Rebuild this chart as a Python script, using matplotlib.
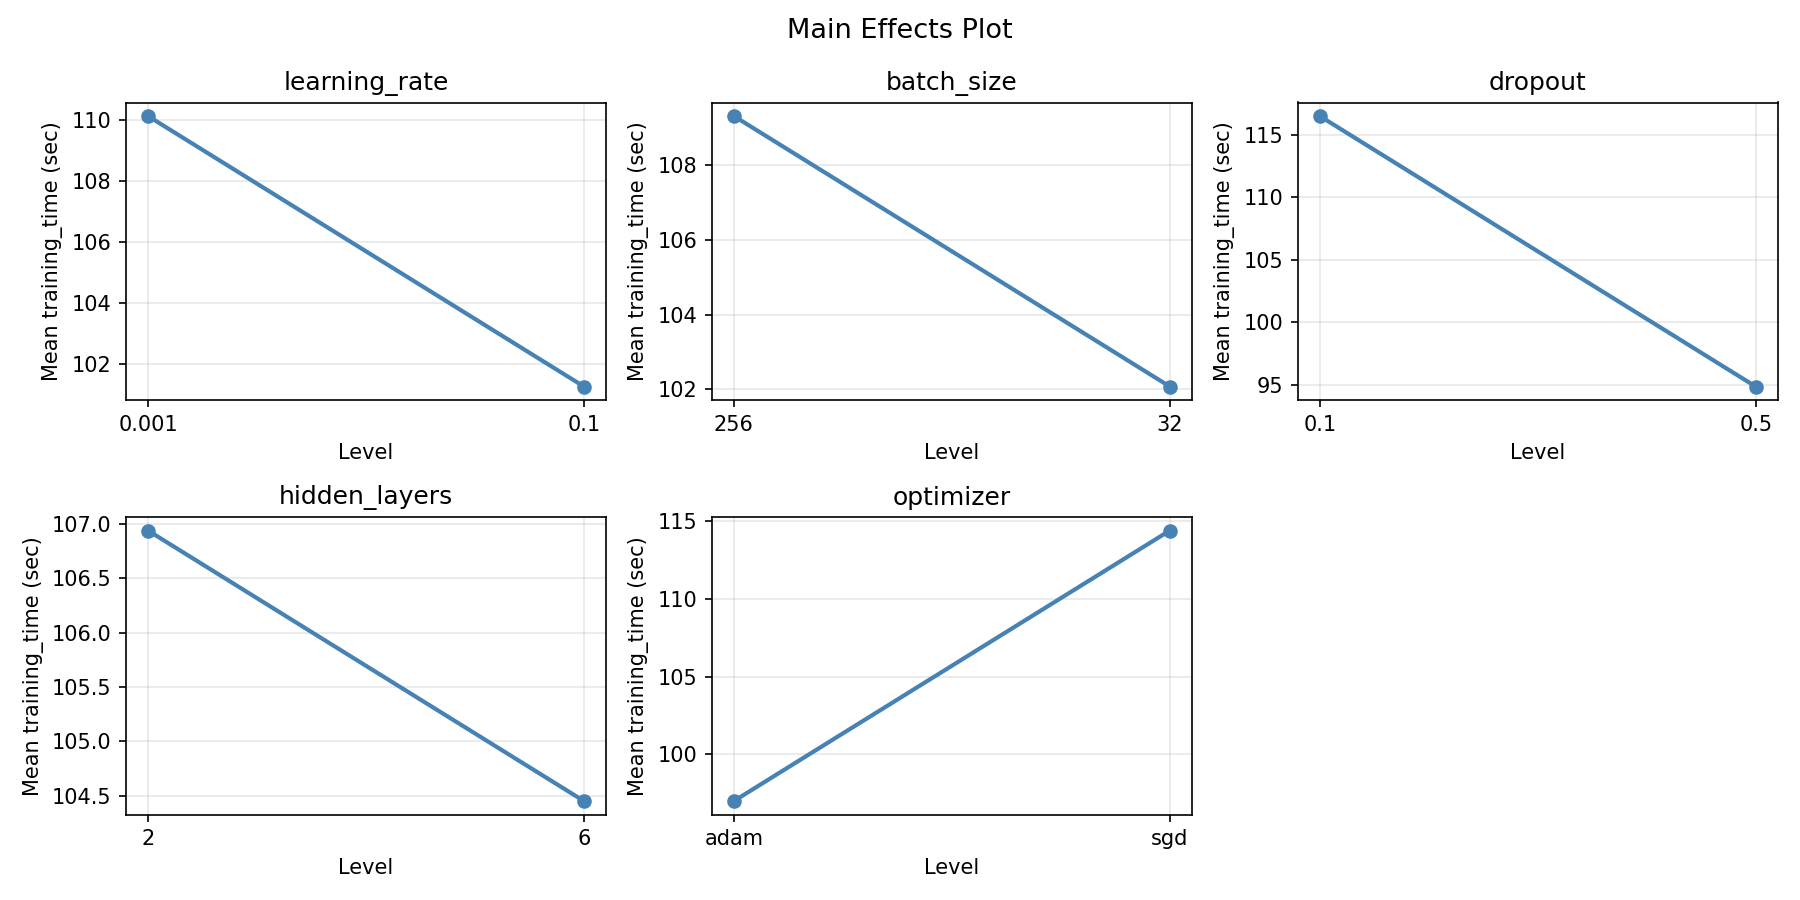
import matplotlib
matplotlib.use('Agg')
import matplotlib.pyplot as plt

factors = ['learning_rate', 'batch_size', 'dropout', 'hidden_layers', 'optimizer']
levels = [['0.001', '0.1'], ['256', '32'], ['0.1', '0.5'], ['2', '6'], ['adam', 'sgd']]
means = [[110.12, 101.25], [109.32, 102.07], [116.5, 94.85], [106.94, 104.45], [97.0, 114.4]]

fig, axes = plt.subplots(2, 3, figsize=(12, 6), dpi=150)
axes = axes.flatten()

for i, f in enumerate(factors):
    ax = axes[i]
    ax.plot(levels[i], means[i], marker='o', color='steelblue', linewidth=2)
    ax.set_title(f)
    ax.set_xlabel('Level')
    ax.set_ylabel('Mean training_time (sec)')
    ax.grid(True, alpha=0.3)

axes[5].axis('off')

fig.suptitle('Main Effects Plot', fontsize=13)
plt.tight_layout()
plt.savefig('out.png')
